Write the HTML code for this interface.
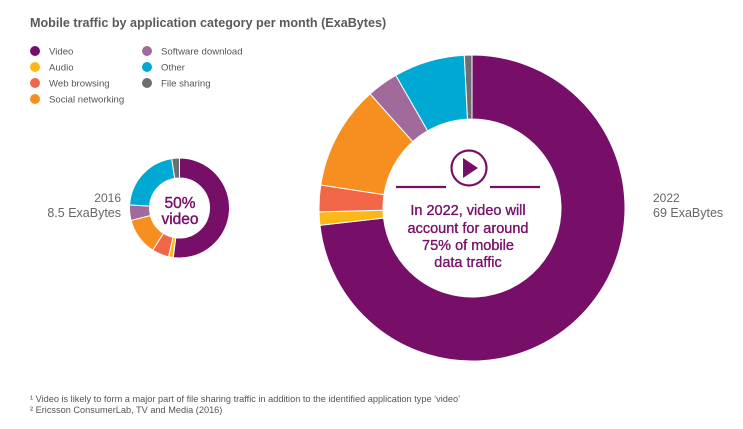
<!DOCTYPE html>
<html><head><meta charset="utf-8">
<style>
html,body{margin:0;padding:0;background:#fff;}
body{width:743px;height:424px;overflow:hidden;font-family:"Liberation Sans",sans-serif;}
svg text{font-family:"Liberation Sans",sans-serif;}
</style></head>
<body>
<svg id="chart" width="743" height="424" viewBox="0 0 743 424">
  <text x="30" y="27" font-size="12.6" font-weight="bold" fill="#5a5a5a">Mobile traffic by application category per month (ExaBytes)</text>
  <g id="legend"></g>
  <g id="small"></g>
  <g id="big"></g>
  <text x="121" y="202" font-size="12" fill="#666" text-anchor="end">2016</text>
  <text x="121" y="217" font-size="12.5" fill="#666" text-anchor="end">8.5 ExaBytes</text>
  <text x="180" y="208" font-size="15.5" fill="#770f69" stroke="#770f69" stroke-width="0.4" text-anchor="middle">50%</text>
  <text x="180" y="224" font-size="15.5" fill="#770f69" stroke="#770f69" stroke-width="0.4" text-anchor="middle">video</text>
  <text x="653" y="202" font-size="12" fill="#666">2022</text>
  <text x="653" y="217" font-size="12.5" fill="#666">69 ExaBytes</text>
  <g>
    <circle cx="469" cy="168" r="17.5" fill="none" stroke="#770f69" stroke-width="2.2"/>
    <path d="M463 158 L478 168 L463 178 Z" fill="#770f69"/>
    <line x1="396" y1="187" x2="446" y2="187" stroke="#770f69" stroke-width="2.2"/>
    <line x1="490" y1="187" x2="540" y2="187" stroke="#770f69" stroke-width="2.2"/>
  </g>
  <g font-size="14.5" fill="#770f69" stroke="#770f69" stroke-width="0.35" text-anchor="middle">
    <text x="468" y="215">In 2022, video will</text>
    <text x="468" y="233">account for around</text>
    <text x="468" y="250">75% of mobile</text>
    <text x="468" y="267">data traffic</text>
  </g>
  <text x="30" y="402" font-size="9.2" fill="#555">¹ Video is likely to form a major part of file sharing traffic in addition to the identified application type ‘video’</text>
  <text x="30" y="413" font-size="9.2" fill="#555">² Ericsson ConsumerLab, TV and Media (2016)</text>
</svg>
<script>
const categories = ["Video","Audio","Web browsing","Social networking","Software download","Other","File sharing"];
const colors = ["#770f69","#fbb817","#f26648","#f68f20","#a06b9a","#00a9d4","#6d6e71"];
const share2016 = [52,1.5,5.5,12,5,21.5,2.5];
const share2022 = [73.2,1.4,2.8,11,3.3,7.5,0.8];

const NS="http://www.w3.org/2000/svg";
function pt(cx,cy,r,a){return [cx+r*Math.sin(a), cy-r*Math.cos(a)];}
function donut(g,vals,cx,cy,R,r,key){
  const total=vals.reduce((a,b)=>a+b,0);
  let a0=0;
  vals.forEach((v,i)=>{
    const a1=a0+v/total*2*Math.PI;
    const large=(a1-a0)>Math.PI?1:0;
    const [x1,y1]=pt(cx,cy,R,a0),[x2,y2]=pt(cx,cy,R,a1),[x3,y3]=pt(cx,cy,r,a1),[x4,y4]=pt(cx,cy,r,a0);
    const p=document.createElementNS(NS,"path");
    p.setAttribute("d",`M${x1} ${y1} A${R} ${R} 0 ${large} 1 ${x2} ${y2} L${x3} ${y3} A${r} ${r} 0 ${large} 0 ${x4} ${y4} Z`);
    p.setAttribute("fill",colors[i]);
    p.setAttribute("stroke","#fff");
    p.setAttribute("stroke-width","1");
    
    
    g.appendChild(p);
    a0=a1;
  });
}
donut(document.getElementById("small"),share2016,179.5,208,50,30,"2016");
donut(document.getElementById("big"),share2022,472,208,153,89,"2022");

const lg=document.getElementById("legend");
categories.forEach((c,i)=>{
  const col=i<4?0:1, row=i<4?i:i-4;
  const x=col?147:35, y=51+row*16;
  const ci=document.createElementNS(NS,"circle");
  ci.setAttribute("cx",x);ci.setAttribute("cy",y);ci.setAttribute("r",5);ci.setAttribute("fill",colors[i]);
  
  
  lg.appendChild(ci);
  const t=document.createElementNS(NS,"text");
  t.setAttribute("x",x+14);t.setAttribute("y",y+3.5);t.setAttribute("font-size","9.6");t.setAttribute("fill","#555");
  t.textContent=c;
  
  
  lg.appendChild(t);
});
</script>
</body></html>
